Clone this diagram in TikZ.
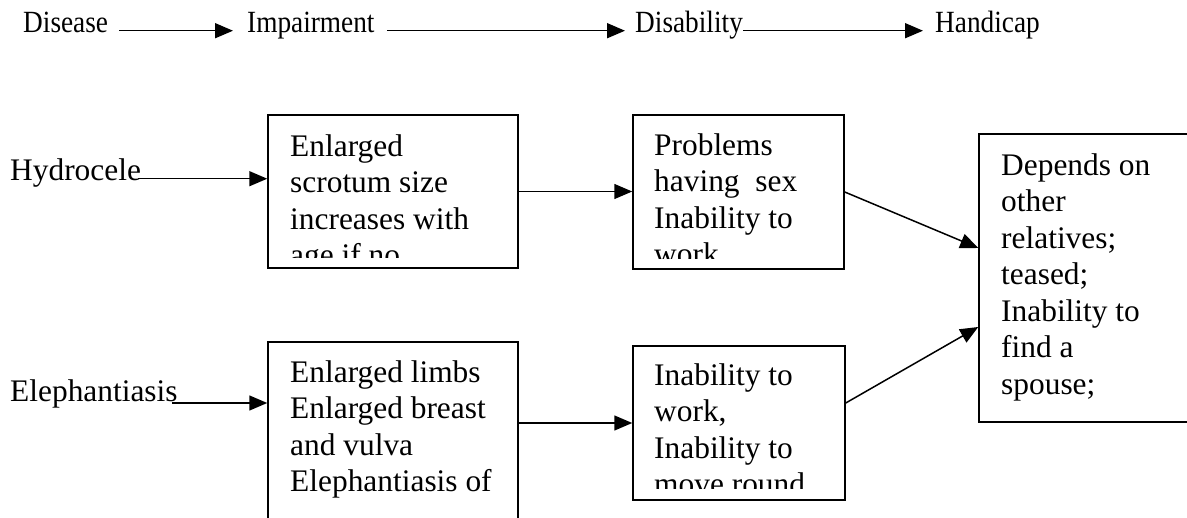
\documentclass[tikz,border=0pt]{standalone}
\usepackage{fontspec}
\setmainfont{Liberation Serif}
\usetikzlibrary{arrows.meta,calc}
\newcommand{\hdtext}[1]{\scalebox{1}[1.13]{#1}}
\begin{document}
\begin{tikzpicture}[x=1pt,y=-1pt,
  head/.style={font=\fontsize{27.3}{32}\selectfont, inner sep=0pt},
  lbl/.style={font=\fontsize{31.4}{36.5}\selectfont, inner sep=0pt},
  boxtext/.style={font=\fontsize{31.4}{36.5}\selectfont, inner sep=0pt, align=left, anchor=north west},
  box/.style={draw, line width=1.5pt, rectangle, inner sep=0pt},
  conn/.style={line width=1.5pt, -{Triangle[length=18pt,width=15pt]}}]
\useasboundingbox (0,0) rectangle (1187,518);

% header row
\node[head, anchor=base west] (dis) at (23,33) {\hdtext{Disease}};
\node[head, anchor=base west] (imp) at (247,33) {\hdtext{Impairment}};
\node[head, anchor=base west] (dab) at (635,33) {\hdtext{Disability}};
\node[head, anchor=base west] (han) at (935,33) {\hdtext{Handicap}};
\draw[conn, shorten <=11pt, shorten >=14pt] (dis.mid east) -- (imp.mid west);
\draw[conn, shorten <=12pt, shorten >=10pt] (imp.mid east) -- (dab.mid west);
\draw[conn, shorten <=0pt, shorten >=12pt] (dab.mid east) -- (han.mid west);

% boxes
\node[box, minimum width=250pt, minimum height=153pt] (b1) at (393,191.5) {};
\node[box, minimum width=211pt, minimum height=154pt] (b2) at (738.5,192) {};
\node[box, minimum width=250pt, minimum height=180pt] (b3) at (393,432) {};
\node[box, minimum width=212pt, minimum height=154pt] (b4) at (739,423) {};
\node[box, minimum width=221pt, minimum height=288pt] (b5) at (1089.5,278) {};

% box texts (clipped like the original text frames)
\begin{scope}
  \clip (b1.north west) rectangle ([yshift=11pt]b1.south east);
  \node[boxtext] (t1) at (290,131) {\rule{0pt}{25pt}Enlarged\\ scrotum size\\ increases with\\ age if no};
\end{scope}
\begin{scope}
  \clip (b2.north west) rectangle ([yshift=11.5pt]b2.south east);
  \node[boxtext] (t2) at (654,130) {\rule{0pt}{25pt}Problems\\ having\ \ sex\\ Inability to\\ work};
\end{scope}
\begin{scope}
  \clip (b3.north west) rectangle ([yshift=12pt]b3.south east);
  \node[boxtext] (t3) at (290,357) {\rule{0pt}{25pt}Enlarged limbs\\ Enlarged breast\\ and vulva\\ Elephantiasis of};
\end{scope}
\begin{scope}
  \clip (b4.north west) rectangle ([yshift=12pt]b4.south east);
  \node[boxtext] (t4) at (654,360) {\rule{0pt}{25pt}Inability to\\ work,\\ Inability to\\ move round};
\end{scope}
\begin{scope}
  \clip (b5.north west) rectangle ([yshift=10pt]b5.south east);
  \node[boxtext] (t5) at (1001,150) {\rule{0pt}{25pt}Depends on\\ other\\ relatives;\\ teased;\\ Inability to\\ find a\\ spouse;};
\end{scope}

% left labels
\node[lbl, anchor=base west] (hyd) at (10,181) {Hydrocele};
\node[lbl, anchor=base west] (ele) at (10,402) {Elephantiasis};

% connectors
\draw[conn, shorten <=-3pt] (hyd.mid east) -- (hyd.mid east -| b1.west);
\draw[conn, shorten <=-6pt] ([yshift=-1pt]ele.base east) -- ([yshift=-1pt]ele.base east -| b3.west);
\draw[conn] (b1.east) -- (b1.east -| b2.west);
\draw[conn] (b4.west -| b3.east) -- (b4.west);
\draw[conn] (b2.east) -- ([yshift=30pt]b5.west);
\draw[conn] ([yshift=20pt]b4.east) -- ([yshift=-49pt]b5.west);
\end{tikzpicture}
\end{document}
